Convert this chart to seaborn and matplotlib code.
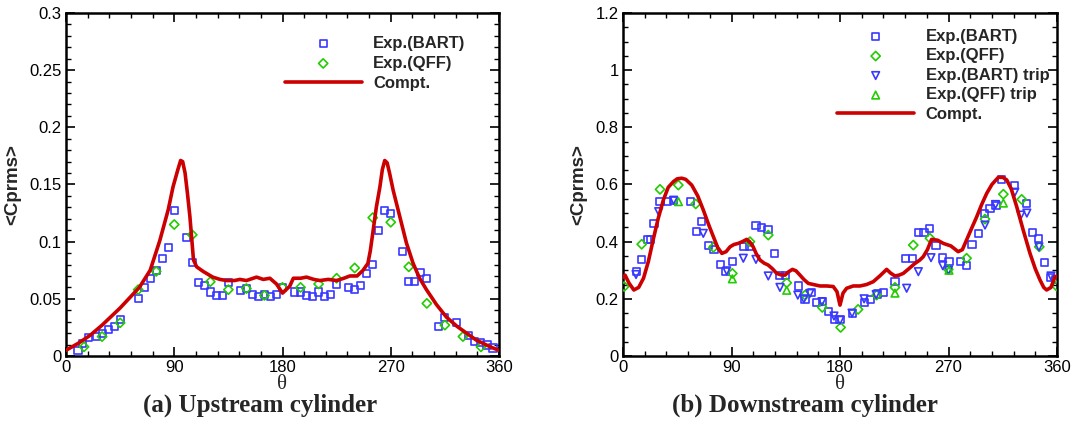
import numpy as np
import pandas as pd
import matplotlib
matplotlib.use("Agg")
import matplotlib.pyplot as plt
import seaborn as sns
from matplotlib.ticker import MultipleLocator, FormatStrFormatter

# ---------------- data: upstream cylinder ----------------
up_bart_theta = [10, 14, 19, 25, 30, 35, 40, 45, 60, 65, 70, 75, 80, 85, 90, 100, 105, 110, 115,
                 120, 125, 130, 135, 145, 150, 155, 160, 165, 170, 175, 180, 190, 195, 200, 205,
                 210, 215, 220, 225, 235, 240, 245, 250, 255, 260, 265, 270, 280, 285, 290, 295,
                 300, 310, 315, 325, 335, 340, 345, 350, 355]
up_bart_val = [0.005, 0.011, 0.016, 0.017, 0.020, 0.023, 0.026, 0.032, 0.050, 0.060, 0.068, 0.075,
               0.085, 0.095, 0.127, 0.104, 0.082, 0.064, 0.062, 0.056, 0.053, 0.053, 0.064, 0.057,
               0.059, 0.054, 0.052, 0.054, 0.052, 0.054, 0.060, 0.056, 0.056, 0.053, 0.052, 0.056,
               0.052, 0.054, 0.063, 0.060, 0.058, 0.062, 0.072, 0.080, 0.110, 0.127, 0.125, 0.091,
               0.065, 0.065, 0.073, 0.068, 0.026, 0.034, 0.029, 0.018, 0.013, 0.012, 0.0096, 0.007]

up_qff_theta = [15, 30, 45, 60, 75, 90, 105, 120, 135, 150, 165, 180, 195, 210, 225, 240, 255,
                270, 285, 300, 315, 330, 345]
up_qff_val = [0.008, 0.017, 0.029, 0.058, 0.074, 0.115, 0.106, 0.065, 0.058, 0.059, 0.053, 0.060,
              0.060, 0.063, 0.068, 0.077, 0.121, 0.117, 0.078, 0.046, 0.027, 0.017, 0.008]

up_cmp_theta = [0, 10, 20, 30, 45, 61, 70, 78, 85, 89, 93, 95.3, 97, 99, 101, 103, 106, 108.6, 114,
                122, 128, 133.5, 140, 144.6, 150, 158.4, 164, 169.5, 175, 180, 186, 189, 195, 200,
                206, 211, 218, 225, 231, 236, 242, 247, 251, 253, 255, 258, 261, 263, 265, 267,
                269, 272, 277.5, 283, 288.6, 294, 299.7, 308, 316.3, 325, 333, 341, 349.6, 355, 360]
up_cmp_val = [0.005, 0.011, 0.018, 0.027, 0.042, 0.060, 0.075, 0.101, 0.128, 0.148, 0.163, 0.171,
              0.170, 0.160, 0.142, 0.122, 0.084, 0.078, 0.074, 0.069, 0.067, 0.066, 0.066, 0.067,
              0.066, 0.069, 0.067, 0.068, 0.063, 0.055, 0.061, 0.068, 0.068, 0.069, 0.067, 0.066,
              0.067, 0.066, 0.068, 0.070, 0.070, 0.075, 0.081, 0.092, 0.107, 0.130, 0.148, 0.163,
              0.171, 0.169, 0.160, 0.145, 0.122, 0.099, 0.081, 0.068, 0.058, 0.045, 0.034, 0.026,
              0.020, 0.014, 0.0096, 0.007, 0.005]

# ---------------- data: downstream cylinder ----------------
dn_bart_theta = [11, 15.5, 20.5, 23, 25.7, 30.7, 36.8, 41.8, 56, 61, 65.3, 70.8, 75.5, 80.5, 85.4,
                 90.7, 100.4, 105, 110.3, 115, 120.3, 125.5, 130, 135, 145.4, 151, 156.5, 160.6,
                 165.6, 170.3, 175.3, 180, 190, 200, 205.5, 211, 216, 225.6, 234.7, 240, 245,
                 249.7, 254.6, 259.6, 265.2, 270.4, 280, 285, 289.5, 294.7, 299.5, 304.4, 309.4,
                 314, 325, 334.8, 339.8, 344.5, 349.5, 354.8, 359]
dn_bart_val = [0.295, 0.338, 0.409, 0.409, 0.464, 0.542, 0.542, 0.545, 0.542, 0.435, 0.470, 0.388,
               0.373, 0.321, 0.295, 0.330, 0.382, 0.382, 0.456, 0.448, 0.442, 0.359, 0.283, 0.283,
               0.245, 0.198, 0.222, 0.188, 0.190, 0.157, 0.129, 0.129, 0.149, 0.187, 0.198, 0.217,
               0.223, 0.260, 0.342, 0.342, 0.433, 0.433, 0.447, 0.386, 0.344, 0.332, 0.330, 0.318,
               0.391, 0.429, 0.499, 0.517, 0.525, 0.616, 0.596, 0.534, 0.433, 0.412, 0.327, 0.275,
               0.268]

dn_qff_theta = [1, 15.5, 30.7, 45.9, 60.3, 75, 90.7, 105.3, 120.5, 135.8, 151, 165.3, 180.5, 195,
                210.4, 225.6, 240.8, 254.6, 269.8, 285, 300.3, 315.5, 330.7, 345.3, 359.5]
dn_qff_val = [0.243, 0.391, 0.583, 0.598, 0.532, 0.380, 0.289, 0.400, 0.423, 0.256, 0.213, 0.170,
              0.100, 0.163, 0.213, 0.240, 0.388, 0.412, 0.303, 0.342, 0.479, 0.566, 0.548, 0.382,
              0.245]

dn_barttrip_theta = [10.8, 29.6, 42, 66.6, 86, 99.8, 110.3, 120.5, 130.2, 145, 150, 155, 165,
                     175, 180, 190, 200, 210, 235.3, 245, 255.5, 265.2, 270, 300.3, 309, 325,
                     330, 335, 345, 355]
dn_barttrip_val = [0.285, 0.505, 0.545, 0.429, 0.298, 0.342, 0.338, 0.280, 0.240, 0.213, 0.200,
                   0.219, 0.190, 0.140, 0.125, 0.150, 0.200, 0.215, 0.237, 0.295, 0.344, 0.316,
                   0.300, 0.458, 0.530, 0.573, 0.493, 0.500, 0.382, 0.280]

dn_qfftrip_theta = [46, 90.7, 135.8, 225.6, 270.4, 315.5]
dn_qfftrip_val = [0.540, 0.270, 0.230, 0.220, 0.300, 0.535]

dn_cmp_theta = [0, 1.7, 5, 9, 13, 17, 21, 25, 29, 33.5, 37.5, 41.8, 45, 48.7, 52, 57, 62, 66.6, 71,
                75, 78.5, 82, 85.5, 88.8, 92, 95.6, 99, 102.6, 105, 108, 110.5, 113.6, 117, 120.5,
                124, 127.5, 131, 134.4, 137.5, 140.5, 143.5, 146.8, 150, 153.7, 158, 163.4, 169,
                174.4, 177.5, 180, 182.5, 185.5, 191, 196.6, 202, 207.6, 213, 218.7, 222, 225.6,
                229, 232.5, 237, 242.2, 246, 249, 252.5, 256, 261, 265.7, 272, 278, 281.5, 285,
                289, 293.4, 297.5, 301.7, 306, 311.3, 315, 318.3, 322, 326.6, 332, 337.6, 342,
                345.9, 349, 351.4, 355, 358.3, 360]
dn_cmp_val = [0.275, 0.283, 0.255, 0.231, 0.240, 0.272, 0.330, 0.406, 0.478, 0.546, 0.590, 0.610,
              0.620, 0.622, 0.618, 0.598, 0.560, 0.511, 0.460, 0.417, 0.380, 0.359, 0.365, 0.382,
              0.390, 0.394, 0.400, 0.408, 0.400, 0.382, 0.358, 0.336, 0.325, 0.318, 0.305, 0.289,
              0.284, 0.283, 0.295, 0.303, 0.298, 0.283, 0.268, 0.254, 0.250, 0.245, 0.245, 0.243,
              0.225, 0.178, 0.220, 0.237, 0.245, 0.245, 0.250, 0.260, 0.280, 0.303, 0.290, 0.280,
              0.283, 0.289, 0.305, 0.324, 0.335, 0.347, 0.372, 0.408, 0.405, 0.394, 0.385, 0.365,
              0.372, 0.406, 0.445, 0.487, 0.530, 0.569, 0.600, 0.625, 0.625, 0.616, 0.585, 0.522,
              0.440, 0.359, 0.305, 0.266, 0.240, 0.231, 0.240, 0.277, 0.280]

# ---------------- style ----------------
sns.set_theme(style="ticks")
plt.rcParams["font.family"] = ["Liberation Sans", "DejaVu Sans"]

BLUE = "#3838ff"
GREEN = "#22cc00"
RED = "#cc0000"

fig = plt.figure(figsize=(10.75, 4.37), dpi=100)
axL = fig.add_axes([66 / 1075, 1 - 356 / 437, 433 / 1075, 343 / 437])
axR = fig.add_axes([623 / 1075, 1 - 356 / 437, 434 / 1075, 343 / 437])


def style_axes(ax, ymax, ymaj, ymin):
    ax.set_xlim(0, 360)
    ax.set_ylim(0, ymax)
    ax.xaxis.set_major_locator(MultipleLocator(90))
    ax.xaxis.set_minor_locator(MultipleLocator(18))
    ax.yaxis.set_major_locator(MultipleLocator(ymaj))
    ax.yaxis.set_minor_locator(MultipleLocator(ymin))
    ax.yaxis.set_major_formatter(FormatStrFormatter("%g"))
    ax.tick_params(which="both", direction="in", top=True, right=True, colors="black",
                   labelsize=12, pad=3)
    ax.tick_params(which="major", length=6.5, width=1.2)
    ax.tick_params(which="minor", length=3.8, width=1.0)
    for s in ax.spines.values():
        s.set_linewidth(1.8)
        s.set_color("black")
    ax.set_xlabel("θ", family=["Liberation Serif", "DejaVu Serif"], fontsize=15, labelpad=0)
    ax.set_ylabel("<Cprms>", fontsize=13.5, fontweight="bold", labelpad=6)


def scatter(ax, th, v, marker, color, label, s=26):
    sns.scatterplot(x=th, y=v, ax=ax, marker=marker, s=s, fc="none", ec=color,
                    linewidth=1.2, label=label, zorder=3, legend=False)


# left panel
scatter(axL, up_bart_theta, up_bart_val, "s", BLUE, "Exp.(BART)")
scatter(axL, up_qff_theta, up_qff_val, "D", GREEN, "Exp.(QFF)", s=22)
sns.lineplot(x=up_cmp_theta, y=up_cmp_val, ax=axL, color=RED, linewidth=2.6, sort=False,
             estimator=None, label="Compt.", zorder=4, legend=False)
style_axes(axL, 0.3, 0.05, 0.01)
axL.legend(loc="upper left", bbox_to_anchor=(0.49, 0.953), frameon=False,
           prop=dict(weight="bold", size=12), handlelength=4.6, handletextpad=0.7,
           labelspacing=0.3, borderaxespad=0, scatterpoints=1)

# right panel
scatter(axR, dn_bart_theta, dn_bart_val, "s", BLUE, "Exp.(BART)")
scatter(axR, dn_qff_theta, dn_qff_val, "D", GREEN, "Exp.(QFF)", s=22)
scatter(axR, dn_barttrip_theta, dn_barttrip_val, "v", BLUE, "Exp.(BART) trip", s=30)
scatter(axR, dn_qfftrip_theta, dn_qfftrip_val, "^", GREEN, "Exp.(QFF) trip", s=30)
sns.lineplot(x=dn_cmp_theta, y=dn_cmp_val, ax=axR, color=RED, linewidth=2.6, sort=False,
             estimator=None, label="Compt.", zorder=4, legend=False)
style_axes(axR, 1.2, 0.2, 0.05)
axR.legend(loc="upper left", bbox_to_anchor=(0.4785, 0.973), frameon=False,
           prop=dict(weight="bold", size=12), handlelength=4.6, handletextpad=0.7,
           labelspacing=0.27, borderaxespad=0, scatterpoints=1)

fig.text(260 / 1075, 1 - 405 / 437, "(a) Upstream cylinder", ha="center", va="center",
         family=["Liberation Serif", "DejaVu Serif"], fontweight="bold", fontsize=18)
fig.text(805 / 1075, 1 - 405 / 437, "(b) Downstream cylinder", ha="center", va="center",
         family=["Liberation Serif", "DejaVu Serif"], fontweight="bold", fontsize=18)

fig.savefig("out.png", dpi=100, facecolor="white")
